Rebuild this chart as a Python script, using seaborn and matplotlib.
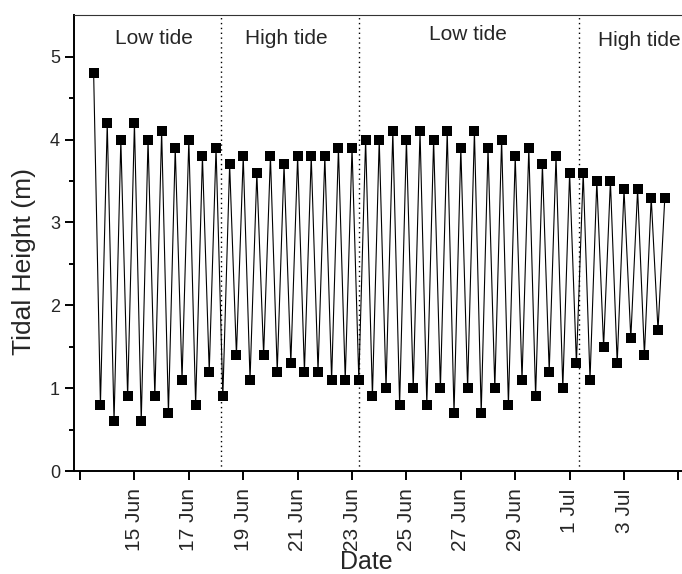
import numpy as np
import pandas as pd
import matplotlib
matplotlib.use("Agg")
import matplotlib.pyplot as plt
import seaborn as sns

# Successive high / low water levels (m), one reading every 6 hours
heights = [
    4.8, 0.8, 4.2, 0.6, 4.0, 0.9, 4.2, 0.6, 4.0, 0.9,
    4.1, 0.7, 3.9, 1.1, 4.0, 0.8, 3.8, 1.2, 3.9, 0.9,
    3.7, 1.4, 3.8, 1.1, 3.6, 1.4, 3.8, 1.2, 3.7, 1.3,
    3.8, 1.2, 3.8, 1.2, 3.8, 1.1, 3.9, 1.1, 3.9, 1.1,
    4.0, 0.9, 4.0, 1.0, 4.1, 0.8, 4.0, 1.0, 4.1, 0.8,
    4.0, 1.0, 4.1, 0.7, 3.9, 1.0, 4.1, 0.7, 3.9, 1.0,
    4.0, 0.8, 3.8, 1.1, 3.9, 0.9, 3.7, 1.2, 3.8, 1.0,
    3.6, 1.3, 3.6, 1.1, 3.5, 1.5, 3.5, 1.3, 3.4, 1.6,
    3.4, 1.4, 3.3, 1.7, 3.3,
]
first_reading = "2012-06-13 12:00"
reading_step = "6h"

# Boundaries between tidal phases and their labels
phase_bounds = ["2012-06-18 04:30", "2012-06-23 06:00", "2012-07-01 08:00"]
phase_labels = ["Low tide", "High tide", "Low tide", "High tide"]
phase_label_at = ["2012-06-15 17:00", "2012-06-20 14:00", "2012-06-27 06:00", "2012-07-03 13:40"]
phase_label_y = [5.22, 5.22, 5.27, 5.20]

tick_dates = ["2012-06-13", "2012-06-15", "2012-06-17", "2012-06-19", "2012-06-21",
              "2012-06-23", "2012-06-25", "2012-06-27", "2012-06-29", "2012-07-01",
              "2012-07-03", "2012-07-05"]
tick_labels = ["", "15 Jun", "17 Jun", "19 Jun", "21 Jun", "23 Jun", "25 Jun",
               "27 Jun", "29 Jun", "1 Jul", "3 Jul", ""]

df = pd.DataFrame({
    "time": pd.date_range(first_reading, periods=len(heights), freq=reading_step),
    "height": heights,
})

sns.set_theme(style="ticks")
plt.rcParams["font.family"] = ["Liberation Sans", "DejaVu Sans"]

fig = plt.figure(figsize=(6.82, 5.74), dpi=100)
ax = fig.add_axes([0.1085, 0.1794, 0.8962, 0.7939])

sns.lineplot(data=df, x="time", y="height", ax=ax, color="black", linewidth=0.8,
             marker="s", markersize=6.8, markeredgewidth=0, markerfacecolor="black")

for b in phase_bounds:
    ax.axvline(pd.Timestamp(b), color="black", linestyle=(0, (1, 2.5)), linewidth=1.0)

for lab, at, yy in zip(phase_labels, phase_label_at, phase_label_y):
    ax.text(pd.Timestamp(at), yy, lab, ha="center", va="center", fontsize=15)

ax.set_xlim(pd.Timestamp("2012-06-12 18:40"), pd.Timestamp("2012-07-05 06:00"))
ax.set_ylim(0, 5.5)
ax.set_xticks([pd.Timestamp(t) for t in tick_dates])
ax.set_xticklabels(tick_labels, rotation=90, fontsize=15)
ax.set_yticks([0, 1, 2, 3, 4, 5])
ax.set_yticks(np.arange(0.5, 5.5, 1.0), minor=True)
ax.tick_params(axis="y", labelsize=13)
ax.tick_params(axis="x", which="major", pad=6)
ax.tick_params(axis="both", which="major", direction="out", length=6.5, width=1.4, color="black")
ax.tick_params(axis="y", which="minor", direction="out", length=3.5, width=1.4, color="black")

for side in ["left", "bottom"]:
    ax.spines[side].set_linewidth(1.4)
    ax.spines[side].set_color("black")
ax.spines["top"].set_linewidth(0.8)
ax.spines["top"].set_color("#333333")
ax.spines["right"].set_visible(False)

ax.set_xlabel("Date", fontsize=18)
ax.xaxis.label.set_va("baseline")
ax.xaxis.set_label_coords(0.478, -0.214)
ax.set_ylabel("Tidal Height (m)", fontsize=19)
ax.yaxis.label.set_va("center")
ax.yaxis.set_label_coords(-0.082, 0.46)

fig.savefig("out.png", dpi=100)
